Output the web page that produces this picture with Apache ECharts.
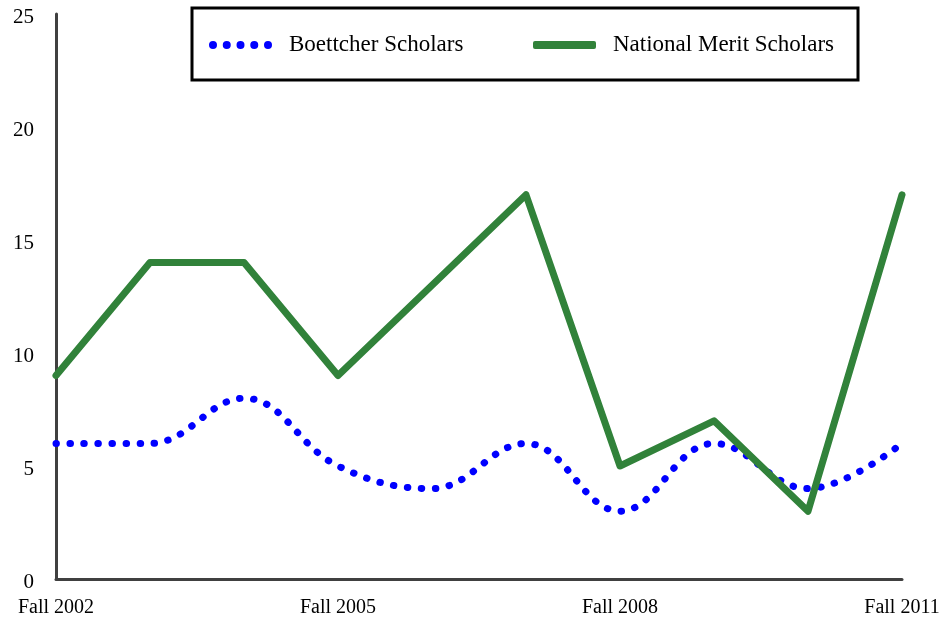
<!DOCTYPE html>
<html>
<head>
<meta charset="utf-8">
<script src="https://cdn.jsdelivr.net/npm/echarts@6/dist/echarts.min.js"></script>
<style>
	html, body { margin: 0; padding: 0; background: #fff; }
	#main { width: 945px; height: 619px; }
</style>
</head>
<body>
<div id="main"></div>
<script>
	// categories and values
	var years = ['Fall 2002', 'Fall 2003', 'Fall 2004', 'Fall 2005', 'Fall 2006',
		'Fall 2007', 'Fall 2008', 'Fall 2009', 'Fall 2010', 'Fall 2011']
	var boettcher = [6, 6, 8, 5, 4, 6, 3, 6, 4, 6]
	var nationalMerit = [9, 14, 14, 9, 13, 17, 5, 7, 3, 17]
	var seriesNames = ['Boettcher Scholars', 'National Merit Scholars']

	var font = 'Liberation Serif'
	// legend icon: five dots in a row (63 x 8)
	var dotsIcon = 'path://'
	var cx = [4, 17.75, 31.5, 45.25, 59]
	for (var i = 0; i < cx.length; i++) {
		dotsIcon += 'M' + (cx[i] - 4) + ',4a4,4 0 1,0 8,0a4,4 0 1,0 -8,0z'
	}

	var mychart = echarts.init(document.getElementById('main'))

	var option = {
		animation: false,
		backgroundColor: '#fff',
		grid: {
			left: 56,
			right: 43,
			top: 14,
			bottom: 40
		},
		legend: {
			left: 192,
			top: 8,
			padding: [23, 17, 21, 17],
			borderColor: '#000',
			borderWidth: 3,
			itemWidth: 63,
			itemHeight: 8,
			itemGap: 64,
			data: [
				{name: seriesNames[0], icon: dotsIcon, itemStyle: {color: '#0000ff'},
					textStyle: {width: 180, padding: [4, 0, 0, 12]}},
				{name: seriesNames[1], icon: 'roundRect', itemStyle: {color: '#31823a'},
					textStyle: {width: 228, padding: [4, 0, 0, 12]}}
			],
			textStyle: {
				fontFamily: font,
				fontSize: 23,
				lineHeight: 24,
				color: '#000'
			}
		},
		xAxis: {
			type: 'category',
			boundaryGap: false,
			data: years,
			axisLine: {lineStyle: {color: '#404040', width: 3}},
			axisTick: {show: false},
			axisLabel: {
				interval: 2,
				margin: 19,
				color: '#000',
				fontFamily: font,
				fontSize: 20
			}
		},
		yAxis: {
			type: 'value',
			min: 0,
			max: 25,
			interval: 5,
			axisLine: {show: true, lineStyle: {color: '#404040', width: 3}},
			axisTick: {show: false},
			splitLine: {show: false},
			axisLabel: {
				margin: 22,
				formatter: '{v|{value}}',
				rich: {
					v: {
						padding: [7, 0, 0, 0],
						color: '#000',
						fontFamily: font,
						fontSize: 21
					}
				}
			}
		},
		series: [
			{
				name: seriesNames[0],
				type: 'line',
				smooth: 0.4,
				symbol: 'none',
				color: '#0000ff',
				lineStyle: {
					color: '#0000ff',
					width: 7,
					type: [0.5, 13.5],
					cap: 'round'
				},
				data: boettcher
			},
			{
				name: seriesNames[1],
				type: 'line',
				symbol: 'none',
				color: '#31823a',
				lineStyle: {
					color: '#31823a',
					width: 7,
					cap: 'round',
					join: 'round'
				},
				data: nationalMerit
			}
		]
	}

	mychart.setOption(option)
</script>
</body>
</html>
